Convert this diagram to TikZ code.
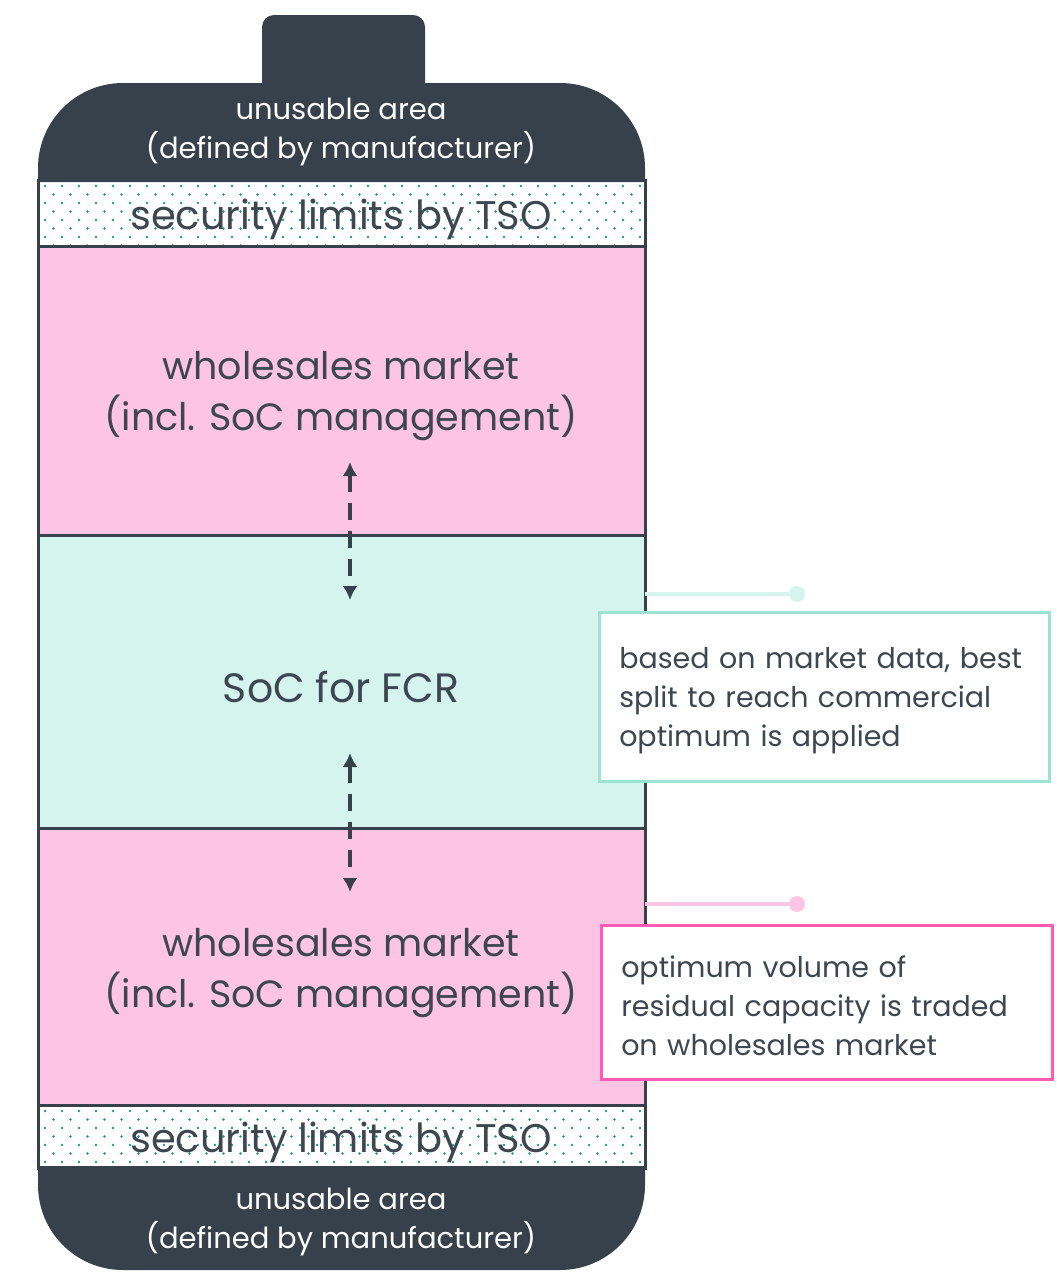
\documentclass[tikz,border=0pt]{standalone}
\usepackage{fontspec}
\setmainfont{Poppins}
\usetikzlibrary{arrows.meta}
\definecolor{slate}{HTML}{37414B}
\definecolor{inkgray}{HTML}{3D4752}
\definecolor{rosefill}{HTML}{FDC4E4}
\definecolor{mintfill}{HTML}{D5F4EE}
\definecolor{mintline}{HTML}{9DE3D3}
\definecolor{roseline}{HTML}{FF5BB4}
\definecolor{dotteal}{HTML}{1E9A82}
\tikzset{
  biglabel/.style={align=center, text=inkgray, font=\fontsize{#1}{51}\selectfont},
  biglabel/.default=38,
  caplabel/.style={align=center, text=white, font=\fontsize{29}{39}\selectfont},
  notebox/.style={draw, line width=2.5pt, fill=white, align=left, text=inkgray,
    font=\fontsize{28.5}{39}\selectfont, inner xsep=20pt, inner ysep=0pt,
    anchor=north west, minimum height=#1},
  tapdot/.style={circle, inner sep=0pt, minimum size=16pt, fill=#1},
  socarrow/.style={{Latex[length=14pt,width=15pt]}-{Latex[length=14pt,width=15pt]},
    dash pattern=on 17pt off 11pt, line width=4pt, slate},
}
\begin{document}
\begin{tikzpicture}[x=1pt, y=-1pt]
\useasboundingbox (0,0) rectangle (1057,1272);
% Pole und Deckel
\fill[slate, rounded corners=12] (262,100) -- (262,15) -- (425,15) -- (425,100) -- cycle;
\fill[slate] (38,182) -- (38,168) arc[start angle=180, end angle=270, radius=85]
  -- (560,83) arc[start angle=270, end angle=360, radius=85] -- (645,182) -- cycle;
\fill[slate] (645,1166) -- (645,1185) arc[start angle=0, end angle=90, radius=85]
  -- (123,1270) arc[start angle=90, end angle=180, radius=85] -- (38,1166) -- cycle;
% Bereiche
\fill[rosefill] (38,246) rectangle (645,535);
\fill[mintfill] (38,535) rectangle (645,828);
\fill[rosefill] (38,828) rectangle (645,1105);
% Punktraster
\begin{scope}
\clip (40,182) rectangle (643,244);
\foreach \r in {0,...,7}
  \foreach \c in {0,...,36}
    \fill[dotteal] ({45+17*\c+8.5*mod(\r,2)},{186+8.5*\r}) circle (1.3);
\end{scope}
\begin{scope}
\clip (40,1107) rectangle (643,1166);
\foreach \r in {0,...,7}
  \foreach \c in {0,...,36}
    \fill[dotteal] ({45+17*\c+8.5*mod(\r,2)},{1111+8.5*\r}) circle (1.3);
\end{scope}
% Rahmen
\draw[slate, line width=3pt] (38,180) rectangle (645,1168);
\foreach \y in {246,535,828,1105}
  \draw[slate, line width=3pt] (38,\y) -- (645,\y);
% Texte
\node[caplabel] (unusabletop) at (341,132) {unusable area\\(defined by manufacturer)};
\node[biglabel=40] (secutop) at (341,219) {security limits by TSO};
\node[biglabel] (wholetop) at (341,396) {wholesales market\\(incl. SoC management)};
\node[biglabel=41] (socfcr) at (341,687) {SoC for FCR};
\node[biglabel] (wholebot) at (341,973) {wholesales market\\(incl. SoC management)};
\node[biglabel=40] (secubot) at (341,1142) {security limits by TSO};
\node[caplabel] (unusablebot) at (341,1222) {unusable area\\(defined by manufacturer)};
% Pfeile
\coordinate (wtopend) at (350,462);
\coordinate (fcrup) at (350,600);
\coordinate (fcrdown) at (350,753);
\coordinate (wbotend) at (350,892);
\draw[socarrow] (wtopend) -- (fcrup);
\draw[socarrow] (fcrdown) -- (wbotend);
% Hinweise
\coordinate (fcrtap) at (645,594);
\node[tapdot=mintfill] (fcrdot) at (797,594) {};
\draw[mintfill, line width=4pt] (fcrtap) -- (fcrdot);
\coordinate (wholetap) at (645,904);
\node[tapdot=rosefill] (wholedot) at (797,904) {};
\draw[rosefill, line width=4pt] (wholetap) -- (wholedot);
\node[notebox=169pt, draw=mintline, text width=410pt] (notefcr) at (598,611)
  {\rule{0pt}{29pt}based on market data, best\\split to reach commercial\\optimum is applied};
\node[notebox=154pt, draw=roseline, text width=411pt] (notewhole) at (600,924)
  {\rule{0pt}{29pt}optimum volume of\\residual capacity is traded\\on wholesales market};
\end{tikzpicture}
\end{document}
